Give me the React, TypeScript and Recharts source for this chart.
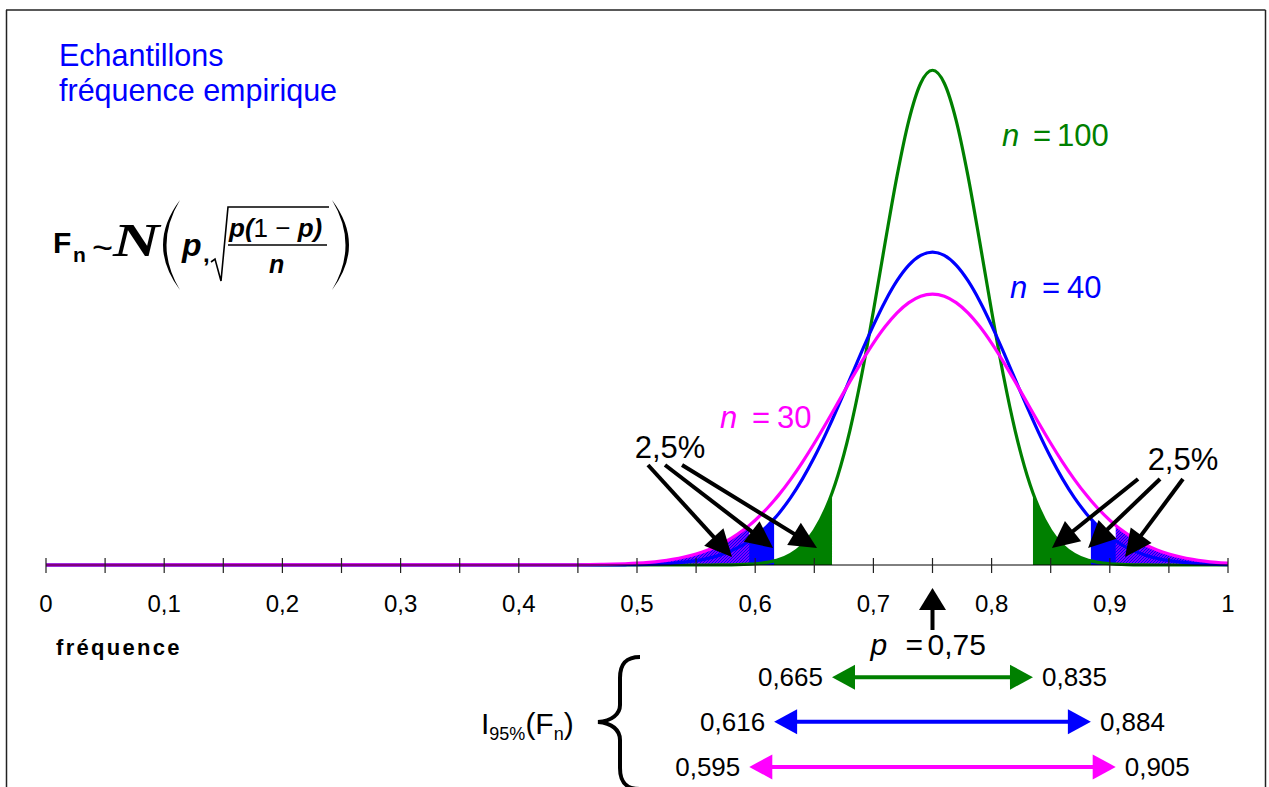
import React from 'react';
import { ComposedChart, Line, Area, XAxis, YAxis, ReferenceLine, ReferenceDot } from 'recharts';

const FONT = '"Liberation Sans", Arial, sans-serif';
const GREEN = '#008000';
const BLUE = '#0000ff';
const MAGENTA = '#ff00ff';

// fréquence (x) and densities
const freq = [0, 0.45, 0.46, 0.47, 0.48, 0.49, 0.5, 0.51, 0.52, 0.53, 0.54, 0.55, 0.56, 0.57, 0.58, 0.59, 0.595, 0.6, 0.61, 0.616, 0.62, 0.63, 0.64, 0.65, 0.66, 0.665, 0.67, 0.68, 0.69, 0.7, 0.71, 0.72, 0.73, 0.74, 0.75, 0.76, 0.77, 0.78, 0.79, 0.8, 0.81, 0.82, 0.83, 0.835, 0.84, 0.85, 0.86, 0.87, 0.88, 0.884, 0.89, 0.9, 0.905, 0.91, 0.92, 0.93, 0.94, 0.95, 0.96, 0.97, 0.98, 0.99, 1.0];
const dens30 = [0, 0.004, 0.006, 0.01, 0.015, 0.023, 0.034, 0.05, 0.073, 0.105, 0.148, 0.206, 0.281, 0.378, 0.5, 0.651, 0.738, 0.834, 1.052, 1.2, 1.306, 1.595, 1.917, 2.267, 2.64, 2.831, 3.024, 3.41, 3.784, 4.132, 4.44, 4.696, 4.887, 5.006, 5.046, 5.006, 4.887, 4.696, 4.44, 4.132, 3.784, 3.41, 3.024, 2.831, 2.64, 2.267, 1.917, 1.595, 1.306, 1.2, 1.052, 0.834, 0.738, 0.651, 0.5, 0.378, 0.281, 0.206, 0.148, 0.105, 0.073, 0.05, 0.034];
const dens40 = [0, 0, 0, 0.001, 0.002, 0.004, 0.007, 0.013, 0.021, 0.033, 0.053, 0.082, 0.124, 0.184, 0.267, 0.38, 0.449, 0.529, 0.72, 0.858, 0.961, 1.254, 1.603, 2.005, 2.456, 2.696, 2.944, 3.455, 3.969, 4.463, 4.913, 5.294, 5.584, 5.765, 5.827, 5.765, 5.584, 5.294, 4.913, 4.463, 3.969, 3.455, 2.944, 2.696, 2.456, 2.005, 1.603, 1.254, 0.961, 0.858, 0.72, 0.529, 0.449, 0.38, 0.267, 0.184, 0.124, 0.082, 0.053, 0.033, 0.021, 0.013, 0.007];
const dens100 = [0, 0, 0, 0, 0, 0, 0, 0, 0, 0, 0, 0, 0, 0.001, 0.004, 0.01, 0.015, 0.023, 0.049, 0.077, 0.102, 0.198, 0.366, 0.64, 1.063, 1.341, 1.672, 2.494, 3.528, 4.73, 6.013, 7.247, 8.281, 8.971, 9.213, 8.971, 8.281, 7.247, 6.013, 4.73, 3.528, 2.494, 1.672, 1.341, 1.063, 0.64, 0.366, 0.198, 0.102, 0.077, 0.049, 0.023, 0.015, 0.01, 0.004, 0.001, 0, 0, 0, 0, 0, 0, 0];

// 95% intervals, order: n = 30, 40, 100
const sampleSizes = ['30', '40', '100'];
const ciLow = [0.595, 0.616, 0.665];
const ciHigh = [0.905, 0.884, 0.835];
const ciLowLabels = ['0,595', '0,616', '0,665'];
const ciHighLabels = ['0,905', '0,884', '0,835'];
const pValue = 0.75;
const pLabel = '0,75';
const tailLabel = '2,5%';

const axisTicks = [0, 0.05, 0.1, 0.15, 0.2, 0.25, 0.3, 0.35, 0.4, 0.45, 0.5, 0.55, 0.6, 0.65, 0.7, 0.75, 0.8, 0.85, 0.9, 0.95, 1];
const axisTickLabels = ['0', '', '0,1', '', '0,2', '', '0,3', '', '0,4', '', '0,5', '', '0,6', '', '0,7', '', '0,8', '', '0,9', '', '1'];

const rows = freq.map((x, i) => ({
  x,
  y30: dens30[i],
  y40: dens40[i],
  y100: dens100[i],
  t30: x <= ciLow[0] || x >= ciHigh[0] ? dens30[i] : null,
  t40: x <= ciLow[1] || x >= ciHigh[1] ? dens40[i] : null,
  t100: x <= ciLow[2] || x >= ciHigh[2] ? dens100[i] : null,
}));

const AxisTick = (props: any) => {
  const { x, y, payload } = props;
  const idx = axisTicks.findIndex((t) => Math.abs(t - payload.value) < 1e-9);
  const label = idx >= 0 ? axisTickLabels[idx] : '';
  return (
    <g>
      <line x1={x} x2={x} y1={y - 7} y2={y + 8} stroke="#222" strokeWidth={1.2} />
      {label ? (
        <text x={x} y={y + 47} textAnchor="middle" fontSize={24} fontFamily={FONT} fill="#000">
          {label}
        </text>
      ) : null}
    </g>
  );
};

const makeArrow = (color: string, sw: number, headLen: number, headHalf: number, both = false) => (p: any) => {
  const { x1, y1, x2, y2 } = p;
  const dx = x2 - x1;
  const dy = y2 - y1;
  const len = Math.hypot(dx, dy) || 1;
  const ux = dx / len;
  const uy = dy / len;
  const nx = -uy;
  const ny = ux;
  const head = (tx: number, ty: number, sx: number, sy: number) => {
    const bx = tx - sx * headLen;
    const by = ty - sy * headLen;
    return `${tx},${ty} ${bx + nx * headHalf},${by + ny * headHalf} ${bx - nx * headHalf},${by - ny * headHalf}`;
  };
  const sx = both ? x1 + ux * headLen * 0.8 : x1;
  const sy = both ? y1 + uy * headLen * 0.8 : y1;
  return (
    <g>
      <line x1={sx} y1={sy} x2={x2 - ux * headLen * 0.8} y2={y2 - uy * headLen * 0.8} stroke={color} strokeWidth={sw} />
      <polygon points={head(x2, y2, ux, uy)} fill={color} />
      {both ? <polygon points={head(x1, y1, -ux, -uy)} fill={color} /> : null}
    </g>
  );
};

const textShape = (content: React.ReactNode, opts: { dx?: number; dy?: number; size?: number; color?: string; anchor?: string }) => (p: any) => (
  <text
    x={p.cx + (opts.dx || 0)}
    y={p.cy + (opts.dy || 0)}
    fontSize={opts.size || 26}
    fontFamily={FONT}
    fill={opts.color || '#000'}
    textAnchor={(opts.anchor as any) || 'start'}
  >
    {content}
  </text>
);

const nLabel = (n: string, color: string, eqDx: number, numDx: number) => (p: any) => (
  <g fill={color} fontFamily={FONT} fontSize={31}>
    <text x={p.cx} y={p.cy} fontStyle="italic">n</text>
    <text x={p.cx + eqDx} y={p.cy}>=</text>
    <text x={p.cx + numDx} y={p.cy}>{n}</text>
  </g>
);

const pLabelShape = (p: any) => (
  <g fill="#000" fontFamily={FONT} fontSize={30}>
    <text x={p.cx - 62} y={p.cy} fontStyle="italic">p</text>
    <text x={p.cx - 27} y={p.cy}>=</text>
    <text x={p.cx - 5} y={p.cy}>{pLabel}</text>
  </g>
);

const leftArrows = [
  [[0.5093, 1.862], [0.5804, 0.149]],
  [[0.5237, 1.862], [0.6151, 0.317]],
  [[0.5381, 1.862], [0.6523, 0.317]],
];
const rightArrows = [
  [[0.9239, 1.601], [0.8511, 0.317]],
  [[0.9425, 1.601], [0.8816, 0.317]],
  [[0.9619, 1.601], [0.9129, 0.149]],
];
const ciY = [-3.76, -2.92, -2.09];
const colors = [MAGENTA, BLUE, GREEN];

export default function App() {
  const tailArrow = makeArrow('#000', 4, 27, 13);
  return (
    <div style={{ position: 'absolute', left: 0, top: 0, width: 1269, height: 787, background: '#fff', overflow: 'hidden' }}>
      <svg width={0} height={0} style={{ position: 'absolute' }}>
        <defs>
          <pattern id="hatch30" patternUnits="userSpaceOnUse" width={3} height={3}>
            <rect width={3} height={3} fill={MAGENTA} />
            <path d="M-1,1 L1,-1 M0,3 L3,0 M2,4 L4,2" stroke={BLUE} strokeWidth={1.45} />
          </pattern>
        </defs>
      </svg>
      <div style={{ position: 'absolute', left: 0, top: 0 }}>
        <ComposedChart width={1269} height={787} data={rows} margin={{ top: 28, right: 41, bottom: 192, left: 46 }}>
          <XAxis
            dataKey="x"
            type="number"
            domain={[0, 1]}
            ticks={axisTicks}
            interval={0}
            tick={(props: any) => <AxisTick {...props} />}
            tickLine={false}
            tickSize={0}
            tickMargin={0}
            height={30}
            axisLine={{ stroke: '#000', strokeWidth: 1 }}
          />
          <YAxis hide type="number" domain={[0, 10]} />
          <Area dataKey="t100" type="monotone" stroke="none" fill={GREEN} fillOpacity={1} isAnimationActive={false} connectNulls={false} />
          <Area dataKey="t40" type="monotone" stroke="none" fill={BLUE} fillOpacity={1} isAnimationActive={false} connectNulls={false} />
          <Area dataKey="t30" type="monotone" stroke="none" fill="url(#hatch30)" fillOpacity={1} isAnimationActive={false} connectNulls={false} />
          <Line dataKey="y100" type="monotone" stroke={GREEN} strokeWidth={3.2} dot={false} isAnimationActive={false} />
          <Line dataKey="y40" type="monotone" stroke={BLUE} strokeWidth={3.2} dot={false} isAnimationActive={false} />
          <Line dataKey="y30" type="monotone" stroke={MAGENTA} strokeWidth={3.2} dot={false} isAnimationActive={false} />

          {leftArrows.concat(rightArrows).map((seg, i) => (
            <ReferenceLine
              key={`ta${i}`}
              segment={[{ x: seg[0][0], y: seg[0][1] }, { x: seg[1][0], y: seg[1][1] }]}
              ifOverflow="visible"
              shape={tailArrow}
            />
          ))}
          <ReferenceDot x={0.5279} y={1.99} r={1} ifOverflow="visible" shape={textShape(tailLabel, { size: 31, anchor: 'middle' })} />
          <ReferenceDot x={0.9619} y={1.77} r={1} ifOverflow="visible" shape={textShape(tailLabel, { size: 31, anchor: 'middle' })} />

          <ReferenceDot x={0.8088} y={7.8} r={1} ifOverflow="visible" shape={nLabel(sampleSizes[2], GREEN, 31, 55)} />
          <ReferenceDot x={0.8156} y={4.97} r={1} ifOverflow="visible" shape={nLabel(sampleSizes[1], BLUE, 32, 57)} />
          <ReferenceDot x={0.5702} y={2.55} r={1} ifOverflow="visible" shape={nLabel(sampleSizes[0], MAGENTA, 32, 57)} />

          <ReferenceLine
            segment={[{ x: pValue, y: -1.21 }, { x: pValue, y: -0.43 }]}
            ifOverflow="visible"
            shape={makeArrow('#000', 4, 22, 13.5)}
          />
          <ReferenceDot x={pValue} y={-1.676} r={1} ifOverflow="visible" shape={pLabelShape} />

          {ciLow.map((lo, i) => (
            <ReferenceLine
              key={`ci${i}`}
              segment={[{ x: lo, y: ciY[i] }, { x: ciHigh[i], y: ciY[i] }]}
              ifOverflow="visible"
              shape={makeArrow(colors[i], 4, 23, 12.5, true)}
            />
          ))}
          {ciLow.map((lo, i) => (
            <ReferenceDot key={`cl${i}`} x={lo} y={ciY[i]} r={1} ifOverflow="visible" shape={textShape(ciLowLabels[i], { dx: -9, dy: 9, size: 26, anchor: 'end' })} />
          ))}
          {ciHigh.map((hi, i) => (
            <ReferenceDot key={`ch${i}`} x={hi} y={ciY[i]} r={1} ifOverflow="visible" shape={textShape(ciHighLabels[i], { dx: 9, dy: 9, size: 26, anchor: 'start' })} />
          ))}
        </ComposedChart>
      </div>
      <svg width={1269} height={787} style={{ position: 'absolute', left: 0, top: 0, pointerEvents: 'none' }}>
        <line x1={6} y1={10} x2={1265.5} y2={10} stroke="#222" strokeWidth={1.5} />
        <line x1={6.5} y1={10} x2={6.5} y2={787} stroke="#222" strokeWidth={1.5} />
        <line x1={1265.5} y1={10} x2={1265.5} y2={787} stroke="#222" strokeWidth={1.5} />

        <text x={59} y={66} fontSize={30.5} fontFamily={FONT} fill={BLUE}>Echantillons</text>
        <text x={59} y={101} fontSize={30.5} fontFamily={FONT} fill={BLUE}>fréquence empirique</text>

        <g fontFamily={FONT} fill="#000">
          <text x={53} y={253} fontSize={30} fontWeight="bold">F</text>
          <text x={73} y={262} fontSize={21} fontWeight="bold">n</text>
          <text x={92} y={260} fontSize={36}>~</text>
          <text
            transform="translate(113,256) scale(1.4,1)"
            x={0}
            y={0}
            fontSize={46}
            fontWeight="bold"
            fontStyle="italic"
            fontFamily='"Liberation Serif", "DejaVu Serif", serif'
          >
            N
          </text>
          <path d="M180,200 Q146,245 180,290 Q153,245 180,200 Z" fill="#000" />
          <path d="M332,200 Q366,245 332,290 Q359,245 332,200 Z" fill="#000" />
          <text x={182} y={256} fontSize={32} fontWeight="bold" fontStyle="italic">p</text>
          <text x={203} y={262} fontSize={24} fontWeight="bold">,</text>
          <path d="M211,262 L215,259 L221,281 L228,207 L329,207" fill="none" stroke="#000" strokeWidth={1.6} />
          <text x={229} y={237} fontSize={26}>
            <tspan fontWeight="bold" fontStyle="italic">p(</tspan>
            <tspan>1 − </tspan>
            <tspan fontWeight="bold" fontStyle="italic">p)</tspan>
          </text>
          <line x1={228} y1={245} x2={327} y2={245} stroke="#000" strokeWidth={1.6} />
          <text x={269} y={273} fontSize={25} fontWeight="bold" fontStyle="italic">n</text>
        </g>

        <text x={56} y={655} fontSize={22} fontWeight="bold" fontFamily={FONT} letterSpacing={2.3} fill="#000">fréquence</text>

        <text x={481} y={734} fontSize={30} fontFamily={FONT} fill="#000">
          I<tspan fontSize={18} dy={6}>95%</tspan>
          <tspan dy={-6}>(F</tspan>
          <tspan fontSize={18} dy={6}>n</tspan>
          <tspan dy={-6}>)</tspan>
        </text>
        <path
          d="M640,657 C626,657 620,664 620,678 L620,705 C620,714 612,721 598,722 C612,723 620,730 620,740 L620,768 C620,782 626,789 640,789"
          fill="none"
          stroke="#000"
          strokeWidth={4}
        />
      </svg>
    </div>
  );
}
